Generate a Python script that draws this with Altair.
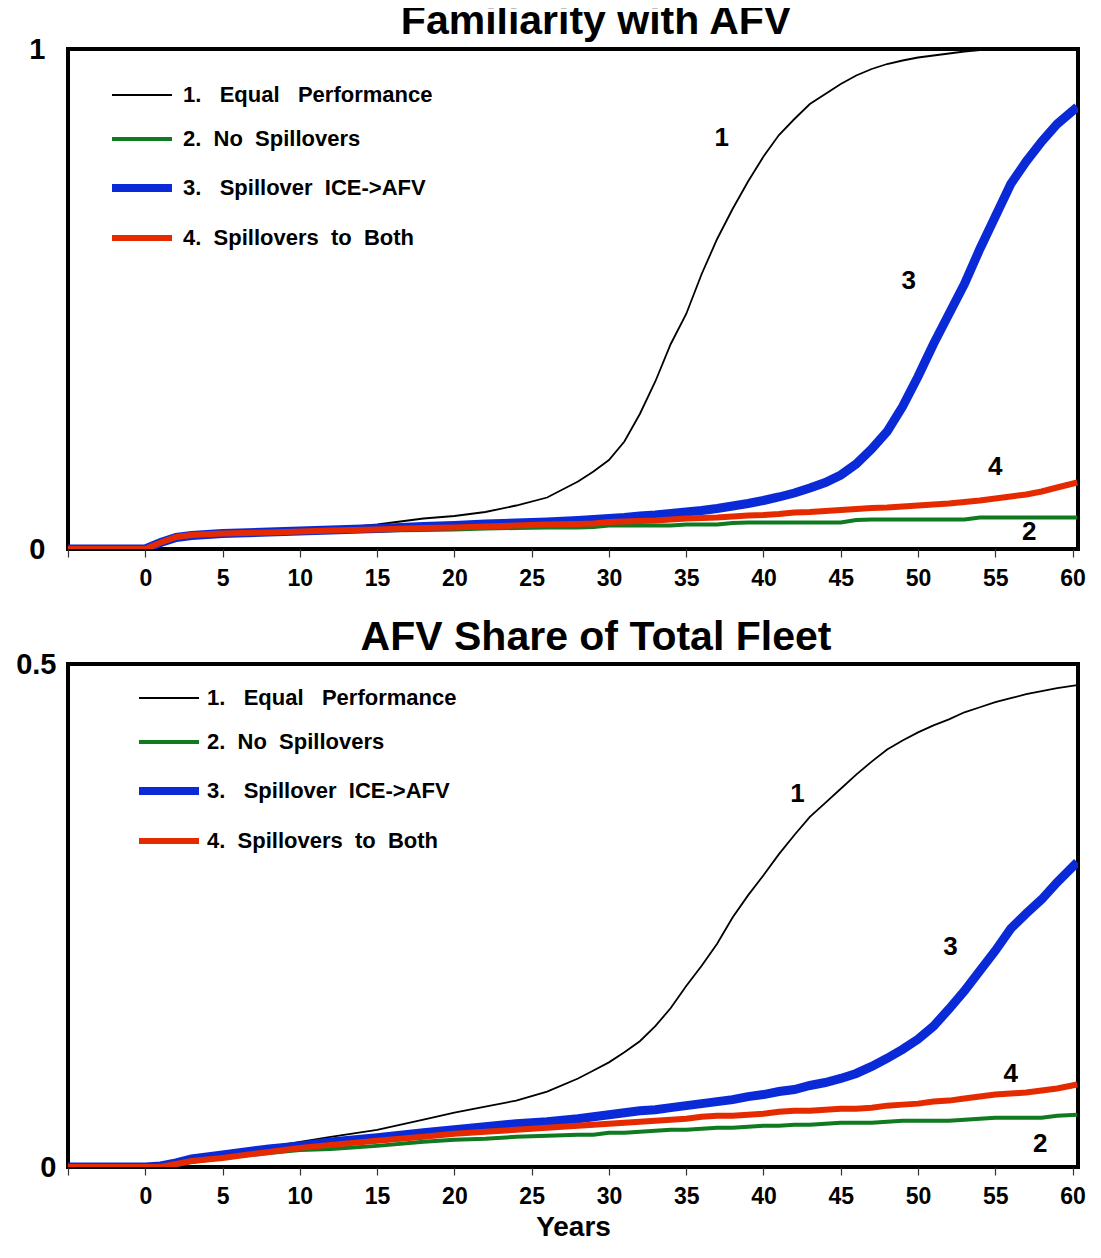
import altair as alt
import pandas as pd

FONT = "Liberation Sans"

series_names = [
    "1.\u00a0\u00a0 Equal\u00a0\u00a0 Performance",
    "2.\u00a0 No\u00a0 Spillovers",
    "3.\u00a0\u00a0 Spillover\u00a0 ICE->AFV",
    "4.\u00a0 Spillovers\u00a0 to\u00a0 Both",
]
series_colors = ["#000000", "#0f7a1f", "#0a2ad8", "#e62a00"]
series_widths = [1.8, 4, 9, 6]
legend_widths = [1.8, 4, 8, 6]

years = [-5, 0, 1, 2, 3, 5, 8, 10, 12, 15, 18, 20, 22, 24, 26, 28, 29, 30, 31, 32,
         33, 34, 35, 36, 37, 38, 39, 40, 41, 42, 43, 44, 45, 46, 47, 48, 49, 50,
         51, 52, 53, 54, 55, 56, 57, 58, 59, 60.3]

# ---- Familiarity with AFV ----
fam_1 = [0, 0, 0.012, 0.024, 0.028, 0.032, 0.035, 0.037, 0.040, 0.049, 0.061, 0.066,
         0.074, 0.087, 0.103, 0.135, 0.155, 0.178, 0.215, 0.270, 0.335, 0.410, 0.470,
         0.550, 0.620, 0.680, 0.735, 0.785, 0.828, 0.860, 0.890, 0.910, 0.930, 0.947,
         0.960, 0.970, 0.977, 0.983, 0.987, 0.991, 0.995, 0.998, 1.0, 1.0, 1.0, 1.0, 1.0, 1.0]
fam_2 = [0, 0, 0.012, 0.022, 0.027, 0.030, 0.032, 0.034, 0.035, 0.037, 0.038, 0.039,
         0.041, 0.042, 0.043, 0.043, 0.044, 0.047, 0.047, 0.047, 0.047, 0.047, 0.049,
         0.049, 0.049, 0.052, 0.053, 0.053, 0.053, 0.053, 0.053, 0.053, 0.053, 0.058,
         0.059, 0.059, 0.059, 0.059, 0.059, 0.059, 0.059, 0.063, 0.063, 0.063, 0.063,
         0.063, 0.063, 0.063]
fam_3 = [0, 0, 0.013, 0.023, 0.027, 0.031, 0.034, 0.036, 0.038, 0.041, 0.045, 0.047,
         0.050, 0.052, 0.054, 0.057, 0.059, 0.061, 0.063, 0.066, 0.068, 0.071, 0.074,
         0.077, 0.081, 0.086, 0.091, 0.097, 0.104, 0.112, 0.122, 0.133, 0.148, 0.170,
         0.200, 0.235, 0.285, 0.345, 0.410, 0.470, 0.530, 0.600, 0.665, 0.730, 0.775,
         0.815, 0.850, 0.884]
fam_4 = [0, 0, 0.013, 0.024, 0.028, 0.031, 0.033, 0.035, 0.037, 0.039, 0.042, 0.043,
         0.045, 0.047, 0.049, 0.050, 0.051, 0.054, 0.055, 0.056, 0.057, 0.059, 0.061,
         0.062, 0.063, 0.065, 0.067, 0.068, 0.070, 0.073, 0.074, 0.076, 0.078, 0.080,
         0.082, 0.083, 0.085, 0.087, 0.089, 0.091, 0.094, 0.097, 0.101, 0.105, 0.109,
         0.115, 0.123, 0.133]

# ---- AFV Share of Total Fleet ----
share_1 = [0, 0, 0.001, 0.004, 0.007, 0.011, 0.020, 0.025, 0.030, 0.037, 0.047, 0.054,
           0.060, 0.066, 0.075, 0.088, 0.096, 0.104, 0.114, 0.125, 0.140, 0.158, 0.180,
           0.200, 0.222, 0.248, 0.270, 0.290, 0.311, 0.330, 0.348, 0.362, 0.376, 0.390,
           0.403, 0.415, 0.424, 0.432, 0.439, 0.445, 0.452, 0.457, 0.462, 0.466, 0.470,
           0.473, 0.476, 0.479]
share_2 = [0, 0, 0, 0.003, 0.005, 0.009, 0.014, 0.017, 0.018, 0.021, 0.025, 0.027,
           0.028, 0.030, 0.031, 0.032, 0.032, 0.034, 0.034, 0.035, 0.036, 0.037, 0.037,
           0.038, 0.039, 0.039, 0.040, 0.041, 0.041, 0.042, 0.042, 0.043, 0.044, 0.044,
           0.044, 0.045, 0.046, 0.046, 0.046, 0.046, 0.047, 0.048, 0.049, 0.049, 0.049,
           0.049, 0.051, 0.052]
share_3 = [0, 0, 0.001, 0.004, 0.008, 0.012, 0.018, 0.021, 0.025, 0.029, 0.034, 0.037,
           0.040, 0.043, 0.045, 0.048, 0.050, 0.052, 0.054, 0.056, 0.057, 0.059, 0.061,
           0.063, 0.065, 0.067, 0.070, 0.072, 0.075, 0.077, 0.081, 0.084, 0.088, 0.093,
           0.100, 0.108, 0.117, 0.127, 0.140, 0.157, 0.175, 0.195, 0.215, 0.237, 0.252,
           0.266, 0.283, 0.303]
share_4 = [0, 0, 0, 0.003, 0.006, 0.009, 0.015, 0.019, 0.022, 0.026, 0.030, 0.033,
           0.035, 0.037, 0.039, 0.041, 0.042, 0.043, 0.044, 0.045, 0.046, 0.047, 0.048,
           0.050, 0.051, 0.051, 0.052, 0.053, 0.055, 0.056, 0.056, 0.057, 0.058, 0.058,
           0.059, 0.061, 0.062, 0.063, 0.065, 0.066, 0.068, 0.070, 0.072, 0.073, 0.074,
           0.076, 0.078, 0.082]

# curve number labels
label_text = ["1", "2", "3", "4"]
fam_label_x = [37.3, 57.2, 49.4, 55.0]
fam_label_y = [0.823, 0.034, 0.536, 0.165]
share_label_x = [42.2, 57.9, 52.1, 56.0]
share_label_y = [0.371, 0.023, 0.219, 0.092]

x_ticks = list(range(-5, 61, 5))


def long_df(vals):
    rows = []
    for name, w, v in zip(series_names, series_widths, vals):
        for yr, val in zip(years, v):
            rows.append({"year": yr, "value": val, "series": name, "sw": w})
    return pd.DataFrame(rows)


LEG_SW = ("datum && datum.index == 0 ? %s : datum && datum.index == 1 ? %s : "
          "datum && datum.index == 2 ? %s : %s" % tuple(legend_widths))


def panel(vals, lx, ly, ymax, title, title_dy, leg_x, leg_y, leg_off, ylab_pad, height, x_title):
    df = long_df(vals)
    lab = pd.DataFrame({"year": lx, "value": ly, "txt": label_text})
    xdom = [-5, 60.35]
    xaxis_kw = dict(values=x_ticks, labelExpr="datum.value < 0 ? '' : datum.label",
                    tickSize=8, tickColor="#333", tickWidth=1.2, domain=False, grid=False,
                    labelFontSize=23, labelFont=FONT, labelFontWeight="bold",
                    labelColor="black", labelPadding=10, labelFlush=False)
    if x_title:
        xaxis_kw.update(title=x_title, titleFont=FONT, titleFontSize=28,
                        titleFontWeight="bold", titleColor="black", titlePadding=5)
    else:
        xaxis_kw.update(title=None)
    yaxis = alt.Axis(values=[0, ymax], format="~g", ticks=False, domain=False, grid=False,
                     labelFontSize=29, labelFont=FONT, labelFontWeight="bold",
                     labelColor="black", labelPadding=ylab_pad, minExtent=52, maxExtent=52,
                     title=None)
    leg = alt.Legend(title=None, orient="none", legendX=leg_x, legendY=leg_y,
                     direction="vertical", symbolType="stroke", symbolSize=3600,
                     symbolStrokeWidth={"expr": LEG_SW},
                     labelFont=FONT, labelFontSize=22, labelFontWeight="bold",
                     labelColor="black", labelLimit=600, labelOffset=leg_off,
                     rowPadding=22, padding=0)
    lines = alt.Chart(df).mark_line(clip=True, strokeCap="butt").encode(
        x=alt.X("year:Q", scale=alt.Scale(domain=xdom, nice=False, zero=False),
                axis=alt.Axis(**xaxis_kw)),
        y=alt.Y("value:Q", scale=alt.Scale(domain=[0, ymax], nice=False), axis=yaxis),
        color=alt.Color("series:N", scale=alt.Scale(domain=series_names, range=series_colors),
                        legend=leg),
        strokeWidth=alt.StrokeWidth("sw:Q", scale=None),
        detail="series:N",
    )
    texts = alt.Chart(lab).mark_text(font=FONT, fontSize=26, fontWeight="bold",
                                     color="black").encode(
        x="year:Q", y="value:Q", text="txt:N")
    return alt.layer(lines, texts).properties(
        width=1010, height=height,
        title=alt.TitleParams(title, font=FONT, fontSize=41, fontWeight="bold",
                              color="black", dx=23, dy=title_dy, offset=6, anchor="middle"),
    )


top = panel([fam_1, fam_2, fam_3, fam_4], fam_label_x, fam_label_y, 1,
            "Familiarity with AFV", 14, 63, 35, 30, 23, 500, None)
bottom = panel([share_1, share_2, share_3, share_4], share_label_x, share_label_y, 0.5,
               "AFV Share of Total Fleet", 15, 90, 23, 27, 12, 503, "Years")

chart = alt.vconcat(top, bottom, spacing=23).resolve_scale(
    x="independent", y="independent", color="independent"
).resolve_legend(color="independent").properties(
    padding={"left": 5, "top": -9, "right": 0, "bottom": -3}
).configure(background="white").configure_view(stroke="black", strokeWidth=4)

chart.save("out.html", embed_options={"renderer": "svg", "actions": False})
